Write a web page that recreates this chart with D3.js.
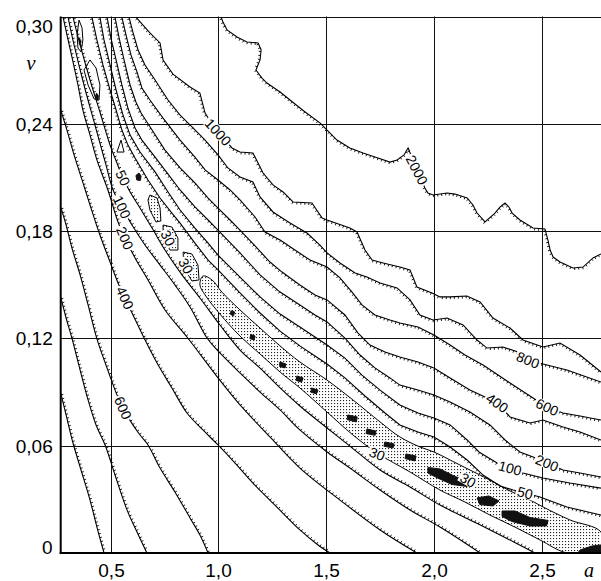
<!DOCTYPE html>
<html>
<head>
<meta charset="utf-8">
<script src="https://cdn.jsdelivr.net/npm/d3@7"></script>
<style>
  body { margin: 0; background: #fff; }
  svg { display: block; font-family: "Liberation Sans", Arial, sans-serif; }
</style>
</head>
<body>
<script>
// ---- axis ticks
const xTicks = [0.5, 1.0, 1.5, 2.0, 2.5];
const yTicks = [0, 0.06, 0.12, 0.18, 0.24, 0.30];

// ---- contour lines, [a, nu] pairs
// left / lower side of the valley (smooth lines)
const lower1000 = [[0.268,0.0895],[0.293,0.0772],[0.325,0.0615],[0.358,0.0481],[0.404,0.0296],[0.436,0.0145],[0.469,0]];
const lower800 = [[0.268,0.1432],[0.293,0.1314],[0.320,0.1202],[0.358,0.1023],[0.395,0.0856],[0.432,0.0716],[0.474,0.0604],[0.520,0.0436],[0.576,0.0240],[0.622,0.0117],[0.668,0]];
const lower600 = [[0.268,0.1935],[0.293,0.1834],[0.320,0.1706],[0.358,0.1555],[0.395,0.1387],[0.435,0.1202],[0.478,0.1051],[0.529,0.0884],[0.557,0.0811],[0.594,0.0733],[0.636,0.0660],[0.673,0.0604],[0.729,0.0475],[0.798,0.0341],[0.868,0.0196],[0.914,0.0101],[0.952,0]];
const lower400 = [[0.268,0.2477],[0.297,0.2365],[0.330,0.2226],[0.367,0.2086],[0.404,0.1946],[0.450,0.1778],[0.497,0.1627],[0.534,0.1510],[0.566,0.1426],[0.599,0.1342],[0.655,0.1202],[0.715,0.1062],[0.784,0.0923],[0.854,0.0783],[0.928,0.0688],[0.998,0.0604],[1.077,0.0503],[1.160,0.0391],[1.262,0.0268],[1.378,0.0129],[1.462,0.0045],[1.518,0]];
const lower200 = [[0.279,0.2997],[0.297,0.2897],[0.320,0.2774],[0.348,0.2617],[0.371,0.2477],[0.404,0.2337],[0.436,0.2198],[0.487,0.2030],[0.534,0.1851],[0.566,0.1761],[0.613,0.1650],[0.673,0.1527],[0.752,0.1359],[0.854,0.1208],[0.998,0.0979],[1.100,0.0828],[1.239,0.0649],[1.378,0.0475],[1.564,0.0296],[1.750,0.0129],[1.921,0]];
const lower100 = [[0.302,0.2997],[0.330,0.2841],[0.376,0.2617],[0.427,0.2393],[0.478,0.2170],[0.511,0.2030],[0.552,0.1935],[0.599,0.1834],[0.659,0.1722],[0.729,0.1610],[0.798,0.1499],[0.868,0.1376],[0.947,0.1202],[0.998,0.1130],[1.100,0.1007],[1.193,0.0900],[1.286,0.0800],[1.378,0.0688],[1.504,0.0565],[1.610,0.0475],[1.750,0.0352],[1.889,0.0240],[2.028,0.0145],[2.214,0]];
const lower50 = [[0.325,0.2997],[0.358,0.2841],[0.404,0.2645],[0.450,0.2466],[0.497,0.2281],[0.529,0.2181],[0.557,0.2097],[0.590,0.2019],[0.636,0.1929],[0.692,0.1817],[0.752,0.1694],[0.831,0.1555],[0.914,0.1426],[1.007,0.1275],[1.100,0.1135],[1.193,0.1034],[1.286,0.0923],[1.378,0.0822],[1.504,0.0699],[1.610,0.0598],[1.750,0.0464],[1.889,0.0369],[2.028,0.0268],[2.167,0.0185],[2.307,0.0101],[2.469,0]];

// right / upper side of the valley (stepped lines)
const upper50 = [[0.413,0.2997],[0.436,0.2869],[0.464,0.2729],[0.497,0.2589],[0.525,0.2477],[0.552,0.2365],[0.580,0.2281],[0.613,0.2209],[0.673,0.2086],[0.729,0.1985],[0.784,0.1901],[0.822,0.1845],[0.891,0.1733],[0.952,0.1638],[0.998,0.1583],[1.100,0.1454],[1.193,0.1342],[1.286,0.1241],[1.378,0.1158],[1.448,0.1102],[1.504,0.1057],[1.587,0.0979],[1.680,0.0878],[1.773,0.0783],[1.842,0.0716],[1.926,0.0677],[2.000,0.0649],[2.075,0.0593],[2.154,0.0520],[2.228,0.0436],[2.307,0.0375],[2.367,0.0352],[2.423,0.0336],[2.492,0.0313],[2.617,0.0257],[2.775,0.0212]];
const upper100 = [[0.450,0.2997],[0.469,0.2869],[0.497,0.2729],[0.525,0.2589],[0.557,0.2449],[0.590,0.2337],[0.636,0.2242],[0.706,0.2131],[0.766,0.2019],[0.822,0.1918],[0.891,0.1817],[0.952,0.1733],[0.998,0.1666],[1.100,0.1543],[1.193,0.1432],[1.286,0.1336],[1.378,0.1264],[1.448,0.1208],[1.504,0.1163],[1.587,0.1090],[1.666,0.0995],[1.750,0.0911],[1.842,0.0828],[1.926,0.0783],[2.000,0.0755],[2.075,0.0716],[2.154,0.0632],[2.209,0.0565],[2.293,0.0503],[2.353,0.0475],[2.413,0.0447],[2.506,0.0419],[2.631,0.0391],[2.775,0.0363]];
const upper200 = [[0.483,0.2997],[0.501,0.2880],[0.525,0.2757],[0.552,0.2617],[0.580,0.2488],[0.613,0.2377],[0.645,0.2309],[0.706,0.2214],[0.766,0.2119],[0.822,0.2030],[0.891,0.1935],[0.952,0.1862],[0.998,0.1806],[1.100,0.1678],[1.193,0.1555],[1.286,0.1459],[1.378,0.1387],[1.448,0.1331],[1.504,0.1292],[1.587,0.1202],[1.657,0.1107],[1.726,0.1035],[1.796,0.0979],[1.842,0.0939],[1.926,0.0911],[2.000,0.0884],[2.075,0.0844],[2.167,0.0788],[2.260,0.0716],[2.330,0.0632],[2.399,0.0565],[2.460,0.0537],[2.525,0.0503],[2.599,0.0464],[2.678,0.0447],[2.775,0.0425]];
const upper400 = [[0.520,0.2997],[0.539,0.2880],[0.562,0.2757],[0.590,0.2617],[0.617,0.2522],[0.641,0.2460],[0.692,0.2365],[0.752,0.2253],[0.822,0.2153],[0.891,0.2069],[0.952,0.1985],[0.998,0.1929],[1.054,0.1862],[1.100,0.1806],[1.170,0.1717],[1.239,0.1627],[1.295,0.1571],[1.378,0.1499],[1.448,0.1443],[1.504,0.1415],[1.587,0.1331],[1.648,0.1230],[1.703,0.1163],[1.773,0.1124],[1.842,0.1096],[1.926,0.1068],[2.000,0.1035],[2.075,0.0979],[2.167,0.0911],[2.237,0.0872],[2.293,0.0839],[2.353,0.0761],[2.446,0.0727],[2.506,0.0744],[2.599,0.0705],[2.678,0.0677],[2.775,0.0632]];
const upper600 = [[0.552,0.2997],[0.571,0.2897],[0.594,0.2785],[0.622,0.2690],[0.645,0.2600],[0.682,0.2533],[0.743,0.2432],[0.822,0.2309],[0.891,0.2214],[0.938,0.2142],[0.998,0.2086],[1.054,0.2030],[1.100,0.1974],[1.170,0.1879],[1.216,0.1795],[1.286,0.1750],[1.355,0.1694],[1.425,0.1638],[1.504,0.1599],[1.564,0.1538],[1.620,0.1459],[1.666,0.1387],[1.726,0.1331],[1.796,0.1303],[1.842,0.1286],[1.926,0.1264],[2.000,0.1219],[2.075,0.1163],[2.144,0.1107],[2.228,0.1051],[2.353,0.0951],[2.460,0.0867],[2.525,0.0816],[2.599,0.0783],[2.678,0.0766],[2.775,0.0744]];
const upper800 = [[0.585,0.2997],[0.603,0.2913],[0.627,0.2813],[0.659,0.2729],[0.706,0.2645],[0.766,0.2533],[0.822,0.2449],[0.882,0.2377],[0.938,0.2309],[0.998,0.2226],[1.044,0.2153],[1.100,0.2103],[1.160,0.2075],[1.193,0.1991],[1.253,0.1907],[1.332,0.1845],[1.411,0.1789],[1.471,0.1722],[1.504,0.1678],[1.564,0.1622],[1.634,0.1566],[1.689,0.1543],[1.750,0.1510],[1.829,0.1482],[1.889,0.1415],[1.935,0.1331],[1.996,0.1303],[2.061,0.1314],[2.135,0.1275],[2.200,0.1191],[2.246,0.1146],[2.320,0.1152],[2.390,0.1124],[2.436,0.1079],[2.506,0.1057],[2.617,0.1023],[2.775,0.0956]];
const upper1000 = [[0.617,0.2997],[0.682,0.2908],[0.729,0.2852],[0.743,0.2757],[0.789,0.2678],[0.868,0.2606],[0.914,0.2572],[0.938,0.2460],[0.970,0.2399],[0.998,0.2354],[1.063,0.2265],[1.100,0.2242],[1.160,0.2237],[1.207,0.2125],[1.253,0.2058],[1.300,0.2019],[1.346,0.1963],[1.434,0.1957],[1.481,0.1873],[1.504,0.1862],[1.610,0.1817],[1.643,0.1795],[1.680,0.1694],[1.713,0.1638],[1.764,0.1622],[1.842,0.1599],[1.889,0.1583],[1.921,0.1487],[1.991,0.1454],[2.028,0.1432],[2.075,0.1432],[2.153,0.1437],[2.214,0.1404],[2.274,0.1314],[2.353,0.1258],[2.413,0.1191],[2.506,0.1152],[2.585,0.1174],[2.678,0.1107],[2.775,0.1012]];
const upper2000 = [[1.012,0.2997],[1.021,0.2969],[1.040,0.2925],[1.086,0.2885],[1.132,0.2857],[1.184,0.2852],[1.198,0.2813],[1.193,0.2757],[1.174,0.2701],[1.202,0.2656],[1.225,0.2628],[1.286,0.2578],[1.332,0.2533],[1.402,0.2466],[1.471,0.2405],[1.504,0.2365],[1.550,0.2309],[1.610,0.2265],[1.671,0.2237],[1.740,0.2209],[1.796,0.2186],[1.829,0.2198],[1.861,0.2226],[1.880,0.2265],[1.958,0.2041],[1.972,0.2013],[1.996,0.2002],[2.061,0.2013],[2.098,0.2007],[2.154,0.1985],[2.181,0.1946],[2.200,0.1901],[2.237,0.1851],[2.283,0.1901],[2.307,0.1935],[2.330,0.1957],[2.348,0.1935],[2.363,0.1901],[2.399,0.1862],[2.460,0.1817],[2.515,0.1812],[2.529,0.1750],[2.539,0.1694],[2.553,0.1655],[2.585,0.1627],[2.645,0.1594],[2.692,0.1599],[2.738,0.1650],[2.775,0.1672]];

// the dotted valley (below 30) and its islands
const band30 = [[0.928,0.1549],[0.970,0.1527],[1.016,0.1459],[1.100,0.1359],[1.193,0.1258],[1.286,0.1158],[1.378,0.1068],[1.504,0.0967],[1.624,0.0856],[1.750,0.0733],[1.842,0.0649],[1.935,0.0593],[2.000,0.0565],[2.075,0.0520],[2.167,0.0464],[2.260,0.0408],[2.353,0.0347],[2.446,0.0296],[2.515,0.0252],[2.631,0.0185],[2.775,0.0117],[2.775,0],[2.617,0],[2.492,0.0073],[2.376,0.0145],[2.260,0.0212],[2.144,0.0285],[2.028,0.0352],[1.889,0.0453],[1.736,0.0559],[1.624,0.0660],[1.504,0.0788],[1.378,0.0923],[1.286,0.1012],[1.193,0.1113],[1.100,0.1213],[1.007,0.1336],[0.938,0.1443],[0.914,0.1499]];
const islands30 = [
  [[0.682,0.2002],[0.715,0.1985],[0.729,0.1929],[0.733,0.1857],[0.710,0.1851],[0.682,0.1918],[0.673,0.1974]],
  [[0.743,0.1834],[0.784,0.1823],[0.812,0.1761],[0.812,0.1694],[0.775,0.1694],[0.743,0.1761]],
  [[0.836,0.1683],[0.877,0.1672],[0.905,0.1610],[0.910,0.1527],[0.877,0.1521],[0.840,0.1594]]
];
const rings30 = [
  [[0.353,0.2980],[0.367,0.2936],[0.371,0.2869],[0.362,0.2802],[0.348,0.2824],[0.344,0.2897]],
  [[0.404,0.2757],[0.432,0.2712],[0.450,0.2617],[0.446,0.2533],[0.423,0.2539],[0.395,0.2617],[0.376,0.2701]],
  [[0.548,0.2309],[0.562,0.2242],[0.529,0.2242]]
];
// black minima
const minima = [
  [[0.355,0.2877],[0.361,0.2866],[0.360,0.2841],[0.354,0.2846]],
  [[0.434,0.2572],[0.443,0.2555],[0.440,0.2530],[0.430,0.2547]],
  [[0.617,0.2111],[0.631,0.2125],[0.641,0.2108],[0.638,0.2083],[0.621,0.2086]],
  [[1.058,0.1354],[1.075,0.1348],[1.070,0.1326],[1.056,0.1334]],
  [[1.150,0.1222],[1.170,0.1213],[1.166,0.1191],[1.146,0.1199]],
  [[1.285,0.1068],[1.313,0.1057],[1.309,0.1035],[1.284,0.1043]],
  [[1.364,0.0990],[1.393,0.0979],[1.386,0.0956],[1.360,0.0965]],
  [[1.432,0.0923],[1.462,0.0911],[1.455,0.0890],[1.429,0.0899]],
  [[1.600,0.0772],[1.644,0.0761],[1.640,0.0733],[1.597,0.0746]],
  [[1.689,0.0694],[1.731,0.0682],[1.727,0.0658],[1.685,0.0668]],
  [[1.772,0.0621],[1.815,0.0610],[1.810,0.0587],[1.768,0.0597]],
  [[1.870,0.0554],[1.917,0.0542],[1.912,0.0515],[1.866,0.0528]],
  [[1.972,0.0478],[2.028,0.0470],[2.098,0.0428],[2.160,0.0400],[2.154,0.0372],[2.084,0.0383],[2.019,0.0418],[1.972,0.0447]],
  [[2.200,0.0308],[2.255,0.0319],[2.302,0.0291],[2.274,0.0263],[2.213,0.0271]],
  [[2.316,0.0235],[2.376,0.0235],[2.446,0.0198],[2.530,0.0182],[2.522,0.0151],[2.446,0.0151],[2.362,0.0176],[2.316,0.0204]],
  [[2.678,0.0017],[2.733,0.0039],[2.775,0.0045],[2.775,0],[2.668,0]]
];

// contour labels: text, a, nu, tilt of the text
const contourLabels = [
  ['1000', 0.998, 0.2354, 47], ['2000', 1.921, 0.2142, 62],
  ['50', 0.557, 0.2097, 65], ['100', 0.552, 0.1935, 65], ['200', 0.566, 0.1761, 67],
  ['400', 0.566, 0.1426, 66], ['600', 0.557, 0.0811, 66],
  ['30', 0.766, 0.1761, 62], ['30', 0.849, 0.1605, 62],
  ['30', 1.736, 0.0554, 22], ['30', 2.158, 0.0408, 30],
  ['800', 2.436, 0.1079, 22], ['600', 2.525, 0.0816, 25], ['400', 2.293, 0.0839, 35],
  ['200', 2.525, 0.0503, 22], ['100', 2.353, 0.0475, 15], ['50', 2.423, 0.0336, 15]
];

// ---- drawing
const width = 601, height = 581;
const plotL = 60.7, plotR = 601, plotT = 16.5, plotB = 553;

const x = d3.scaleLinear().domain([0.5, 2.5]).range([110.7, 541.7]);
const y = d3.scaleLinear().domain([0, 0.30]).range([plotB, plotT]);

const svg = d3.select('body').append('svg')
  .attr('width', width).attr('height', height);

const defs = svg.append('defs');
defs.append('clipPath').attr('id', 'plotclip')
  .append('rect').attr('x', plotL).attr('y', plotT)
  .attr('width', plotR - plotL).attr('height', plotB - plotT);
const pat = defs.append('pattern').attr('id', 'dots')
  .attr('patternUnits', 'userSpaceOnUse').attr('width', 3).attr('height', 3);
pat.append('rect').attr('width', 3).attr('height', 3).attr('fill', '#fff');
pat.append('rect').attr('x', 1).attr('y', 1).attr('width', 1.1).attr('height', 1.1).attr('fill', '#222');

const comma = (f) => (d) => d === 0 ? '0' : d3.format(f)(d).replace('.', ',');

// grid via axes
const xAxis = svg.append('g')
  .attr('transform', `translate(0,${plotB})`)
  .call(d3.axisBottom(x).tickValues(xTicks).tickFormat(comma('.1f'))
    .tickSize(-(plotB - plotT)).tickPadding(11));
const yAxis = svg.append('g')
  .attr('transform', `translate(${plotL},0)`)
  .call(d3.axisLeft(y).tickValues(yTicks).tickFormat(comma('.2f'))
    .tickSize(-(plotR - plotL)).tickPadding(8));
xAxis.selectAll('.tick').attr('transform', d => `translate(${Math.round(x(d)) + 0.5},0)`);
yAxis.selectAll('.tick').attr('transform', d => `translate(0,${Math.round(y(d)) + 0.5})`);
[xAxis, yAxis].forEach(g => {
  g.select('.domain').remove();
  g.attr('font-family', null).attr('font-size', null);
  g.selectAll('line').attr('stroke', '#111').attr('stroke-width', 1);
  g.selectAll('text').attr('font-size', 19).attr('fill', '#000');
});
yAxis.selectAll('text').attr('dy', d => d === 0 ? '0em' : d === 0.30 ? '0.82em' : '0.34em');

const plot = svg.append('g').attr('clip-path', 'url(#plotclip)');
const linear = d3.line().x(d => x(d[0])).y(d => y(d[1]));
const smooth = d3.line().x(d => x(d[0])).y(d => y(d[1])).curve(d3.curveCatmullRom.alpha(0.5));
const closedSmooth = d3.line().x(d => x(d[0])).y(d => y(d[1])).curve(d3.curveCatmullRomClosed.alpha(0.5));
const closedLin = d3.line().x(d => x(d[0])).y(d => y(d[1])).curve(d3.curveLinearClosed);

// dotted valley and islands
plot.append('path').attr('d', closedSmooth(band30))
  .attr('fill', 'url(#dots)').attr('stroke', '#000').attr('stroke-width', 1);
islands30.forEach(p => plot.append('path').attr('d', closedLin(p))
  .attr('fill', 'url(#dots)').attr('stroke', '#000').attr('stroke-width', 1));
rings30.forEach(p => plot.append('path').attr('d', closedLin(p))
  .attr('fill', 'none').attr('stroke', '#000').attr('stroke-width', 1));
minima.forEach(p => plot.append('path').attr('d', closedLin(p))
  .attr('fill', '#111').attr('stroke', '#111').attr('stroke-width', 1));

// hachures: short ticks on the downhill side of each line
function hachure(node, side) {
  const len = node.getTotalLength();
  let d = '';
  for (let s = 2; s < len - 1; s += 4) {
    const p = node.getPointAtLength(s);
    const p0 = node.getPointAtLength(Math.max(0, s - 1));
    const p1 = node.getPointAtLength(Math.min(len, s + 1));
    const dx = p1.x - p0.x, dy = p1.y - p0.y, n = Math.hypot(dx, dy) || 1;
    d += `M${p.x.toFixed(1)},${p.y.toFixed(1)}l${(-dy / n * side * 2.2).toFixed(1)},${(dx / n * side * 2.2).toFixed(1)}`;
  }
  return d;
}

const lines = [
  [lower1000, smooth, -1], [lower800, smooth, -1], [lower600, smooth, -1], [lower400, smooth, -1],
  [lower200, smooth, -1], [lower100, smooth, -1], [lower50, smooth, -1],
  [upper50, linear, 1], [upper100, linear, 1], [upper200, linear, 1], [upper400, linear, 1],
  [upper600, linear, 1], [upper800, linear, 1], [upper1000, linear, 1], [upper2000, linear, 1]
];
lines.forEach(([pts, gen, side]) => {
  const path = plot.append('path').attr('d', gen(pts))
    .attr('fill', 'none').attr('stroke', '#000').attr('stroke-width', 1.1);
  plot.append('path').attr('d', hachure(path.node(), side))
    .attr('fill', 'none').attr('stroke', '#000').attr('stroke-width', 0.9);
});

// contour labels with a white gap under them
contourLabels.forEach(([t, a, v, ang]) => {
  const g = svg.append('g').attr('transform', `translate(${x(a)},${y(v)}) rotate(${ang})`);
  const w = t.length * 7.8 + 3;
  g.append('rect').attr('x', -w / 2).attr('y', -5.5).attr('width', w).attr('height', 11).attr('fill', '#fff');
  g.append('text').attr('text-anchor', 'middle').attr('dy', '0.36em')
    .attr('font-size', 14).attr('fill', '#000').text(t);
});

// frame
svg.append('line').attr('x1', plotL).attr('x2', plotL).attr('y1', plotT).attr('y2', plotB + 1)
  .attr('stroke', '#000').attr('stroke-width', 2);
svg.append('line').attr('x1', plotL - 1).attr('x2', plotR).attr('y1', plotB).attr('y2', plotB)
  .attr('stroke', '#000').attr('stroke-width', 2);

// axis names
svg.append('text').attr('x', 31).attr('y', 70).attr('text-anchor', 'middle')
  .attr('font-family', '"Liberation Serif", "DejaVu Serif", serif').attr('font-style', 'italic')
  .attr('font-size', 21).text('ν');
svg.append('text').attr('x', 584).attr('y', 577)
  .attr('font-family', '"Liberation Serif", "DejaVu Serif", serif').attr('font-style', 'italic')
  .attr('font-size', 20).text('a');
</script>
</body>
</html>
